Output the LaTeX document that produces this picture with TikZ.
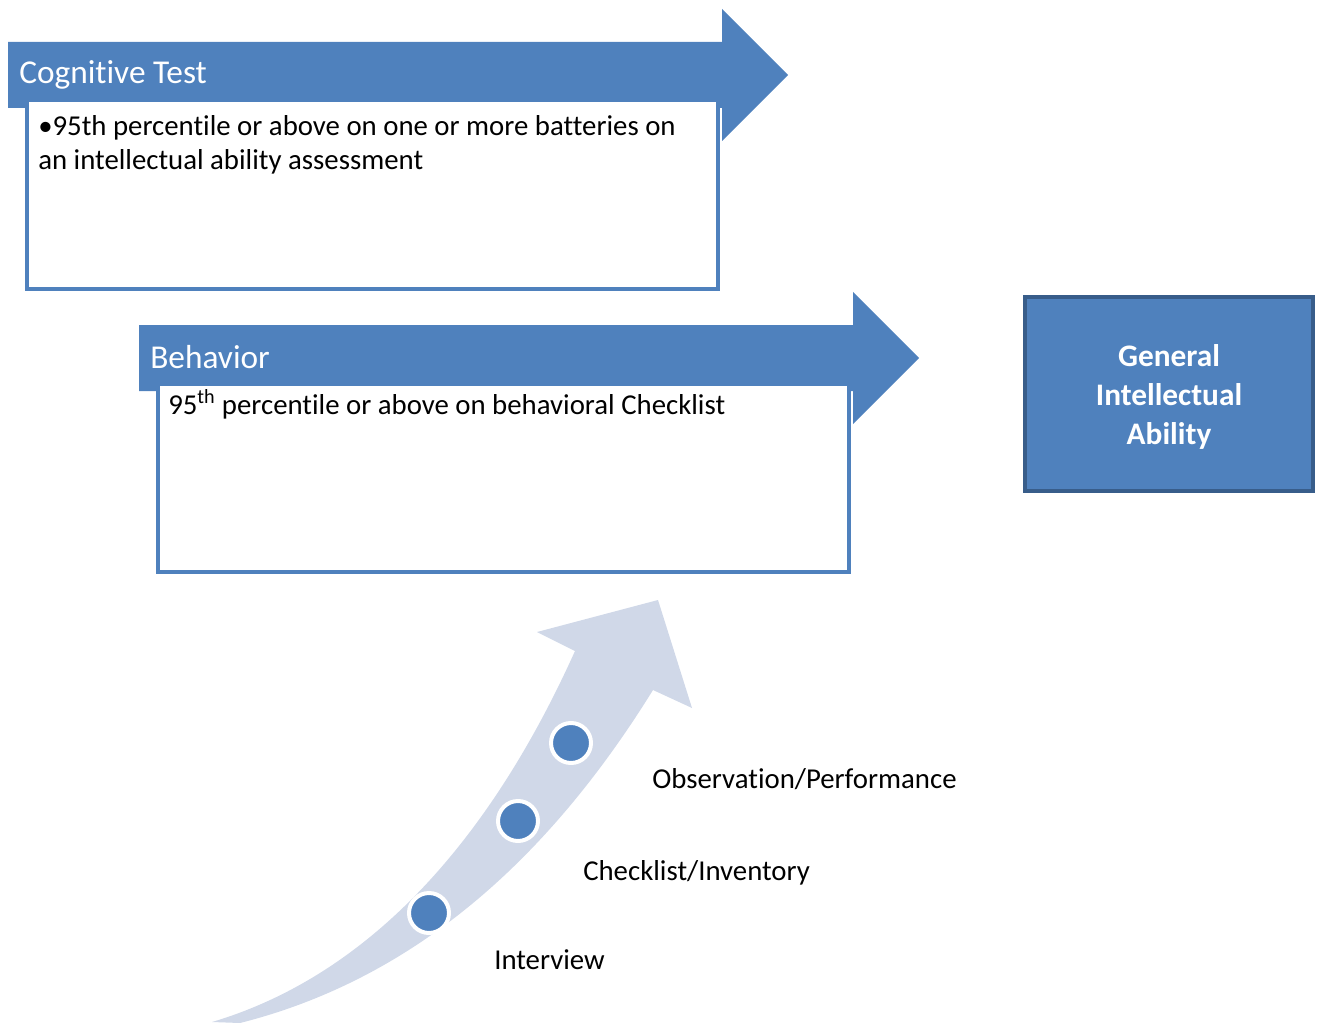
\documentclass[tikz,border=0pt]{standalone}
\usepackage{fontspec}
\setmainfont{Carlito}[Ligatures=NoCommon]
\definecolor{ablue}{RGB}{79,129,189}
\definecolor{dblue}{RGB}{56,93,138}
\definecolor{lav}{RGB}{208,216,232}
\tikzset{
  bodytext/.style={anchor=base west, inner sep=0pt, font=\fontsize{21.6}{26}\selectfont},
  headtext/.style={anchor=base west, inner sep=0pt, text=white, font=\fontsize{25}{30}\selectfont},
  textbox/.style={draw=ablue, fill=white, line width=2.4pt},
  dot/.style={circle, fill=ablue, draw=white, line width=3pt, minimum size=30pt, inner sep=0pt},
}
\begin{document}
\begin{tikzpicture}[x=0.75pt,y=-0.75pt]
\useasboundingbox (0,0) rectangle (1319,1023);
% arrow 1
\fill[ablue] (8,42) -- (722,42) -- (722,9) -- (788,75) -- (722,141) -- (722,108) -- (8,108) -- cycle;
\draw[textbox] (27,100) rectangle (718,289);
\node[headtext] (h1) at (19,84) {Cognitive Test};
\node[bodytext] (t1a) at (38,136) {•95th percentile or above on one or more batteries on};
\node[bodytext] (t1b) at (38,170) {an intellectual ability assessment};
% arrow 2
\fill[ablue] (139,325) -- (853,325) -- (853,292) -- (919,358) -- (853,424) -- (853,391) -- (139,391) -- cycle;
\draw[textbox] (158,384) rectangle (849,572);
\node[headtext] (h2) at (150,368) {Behavior};
\node[bodytext] (t2) at (168,414) {95\textsuperscript{th} percentile or above on behavioral Checklist};
% GIA box
\draw[fill=ablue, draw=dblue, line width=3.6pt] (1025,297) rectangle (1313,491);
\node[align=center, text=white, inner sep=0pt, font=\fontsize{23.5}{29.3}\selectfont\bfseries] (gia) at (1169,397) {General\\Intellectual\\Ability};
% curved arrow
\fill[lav] (212,1022) .. controls (370,975) and (490,840) .. (575,651)
  -- (537,632) -- (658,600) -- (692,708) -- (653,690)
  .. controls (560,840) and (430,975) .. (240,1023) -- cycle;
\node[dot] (d1) at (429,913) {};
\node[dot] (d2) at (518,821) {};
\node[dot] (d3) at (571,743) {};
\node[bodytext] (l3) at (652,788) {Observation/Performance};
\node[bodytext] (l2) at (583,880) {Checklist/Inventory};
\node[bodytext] (l1) at (494,969) {Interview};
\end{tikzpicture}
\end{document}
